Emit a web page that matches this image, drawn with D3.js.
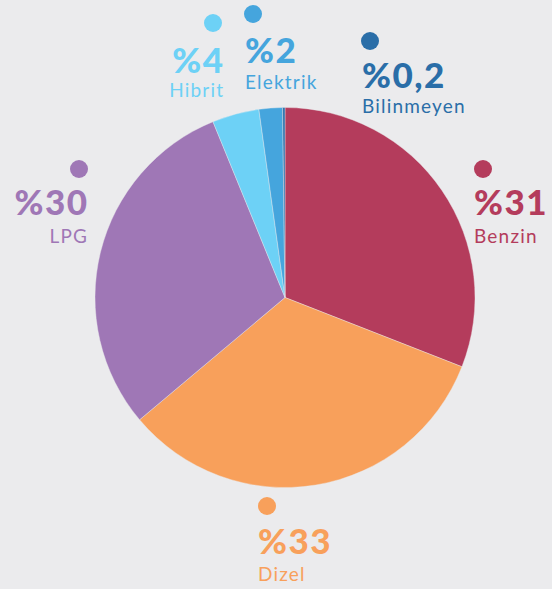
<!DOCTYPE html>
<html><head><meta charset="utf-8">
<script src="https://cdn.jsdelivr.net/npm/d3@7"></script>
<style>
html,body{margin:0;padding:0;background:#ebebed;}
svg{display:block;}
text{font-family:Lato,"Open Sans",sans-serif;}
</style></head>
<body><svg id="c" width="552" height="589"></svg>
<script>
const categories = ["Benzin","Dizel","LPG","Hibrit","Elektrik","Bilinmeyen"];
const values = [31, 33, 30, 4, 2, 0.2];
const valueLabels = ["%31","%33","%30","%4","%2","%0,2"];
const colors = ["#b43c5c","#f8a05b","#9f77b6","#6dd1f6","#45a5dd","#2a6ea8"];

// label layout (dot position, text anchor x, baselines)
const labelLayout = [
  {dx:483, dy:169, tx:474, anchor:"start", vy:215, ny:243},
  {dx:267, dy:506, tx:258, anchor:"start", vy:554, ny:581},
  {dx:79,  dy:169, tx:87,  anchor:"end",   vy:215, ny:243},
  {dx:213, dy:23,  tx:223, anchor:"end",   vy:73,  ny:97},
  {dx:253, dy:14,  tx:245, anchor:"start", vy:63,  ny:89},
  {dx:370, dy:41,  tx:362, anchor:"start", vy:88,  ny:113}
];

const svg = d3.select("#c");
const cx = 285, cy = 297.5, R = 190;
const data = categories.map((c,i)=>({cat:c, v:values[i], lab:valueLabels[i], col:colors[i], L:labelLayout[i]}));

const pie = d3.pie().value(d=>d.v).sort(null);
const arc = d3.arc().innerRadius(0).outerRadius(R);
const g = svg.append("g").attr("transform",`translate(${cx},${cy})`);
g.selectAll("path").data(pie(data)).join("path")
  .attr("d",arc).attr("fill",d=>d.data.col)
  .attr("stroke","#ebebed").attr("stroke-width",0.4);

const lg = svg.append("g");
data.forEach(d=>{
  const endA = d.L.anchor==="end";
  lg.append("circle").attr("cx",d.L.dx).attr("cy",d.L.dy).attr("r",9).attr("fill",d.col);
  lg.append("text").attr("x",d.L.tx + (endA?1.5:0)).attr("y",d.L.vy).attr("text-anchor",d.L.anchor)
    .attr("fill",d.col).attr("font-size",35).attr("font-weight",900).attr("letter-spacing",1.5).text(d.lab);
  lg.append("text").attr("x",d.L.tx + (endA?1.2:0)).attr("y",d.L.ny).attr("text-anchor",d.L.anchor)
    .attr("fill",d.col).attr("font-size",19).attr("letter-spacing",1.2).text(d.cat);
});
</script></body></html>
